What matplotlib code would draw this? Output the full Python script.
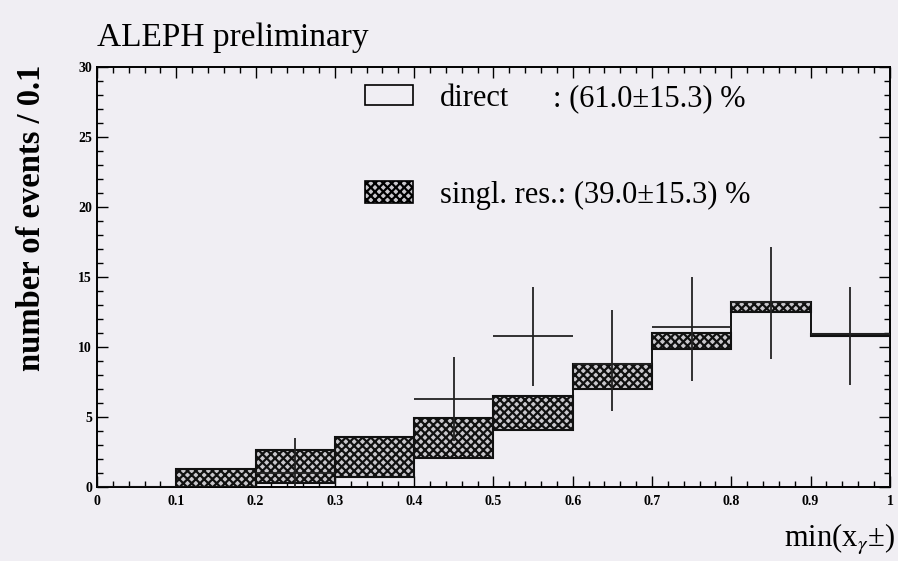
import numpy as np
import matplotlib
matplotlib.use("Agg")
import matplotlib.pyplot as plt
from matplotlib.patches import Rectangle

# histogram bins in min(x_gamma+-)
edges = [0.0, 0.1, 0.2, 0.3, 0.4, 0.5, 0.6, 0.7, 0.8, 0.9, 1.0]
direct = [0.0, 0.0, 0.29, 0.71, 2.07, 4.07, 7.0, 9.86, 12.52, 10.8]
singl_res = [0.0, 1.29, 2.35, 2.86, 2.86, 2.45, 1.79, 1.14, 0.72, 0.13]

# data points
data_x = [0.25, 0.45, 0.55, 0.65, 0.75, 0.85, 0.95]
data_y = [1.0, 6.3, 10.8, 8.8, 11.4, 13.2, 10.9]
data_lo = [1.0, 3.0, 3.6, 3.4, 3.8, 4.1, 3.6]
data_hi = [2.5, 3.0, 3.5, 3.8, 3.6, 3.9, 3.4]

bg = "#f0eef3"
plt.rcParams["font.family"] = ["Liberation Serif", "DejaVu Serif"]
plt.rcParams["mathtext.fontset"] = "stix"
plt.rcParams["hatch.linewidth"] = 1.6

fig = plt.figure(figsize=(8.98, 5.61), dpi=100, facecolor=bg)
ax = fig.add_axes([0.108, 0.132, 0.883, 0.749], facecolor=bg)

lefts = np.array(edges[:-1])
width = np.diff(edges)
ax.bar(lefts, singl_res, width=width, bottom=direct, align="edge",
       facecolor="#c9c7cc", edgecolor="#111111", hatch="xxxx", lw=1.5, zorder=2)
ax.stairs(direct, edges, color="#111111", lw=1.4, zorder=3)

ax.errorbar(data_x, data_y, xerr=0.05, yerr=[data_lo, data_hi], fmt="none",
            ecolor="#222222", elinewidth=1.3, capsize=0, zorder=4)

ax.set_xlim(0, 1)
ax.set_ylim(0, 30)
ax.set_xticks(np.arange(0, 1.01, 0.1))
ax.set_xticklabels(["0", "0.1", "0.2", "0.3", "0.4", "0.5", "0.6", "0.7", "0.8", "0.9", "1"])
ax.set_xticks(np.arange(0, 1.001, 0.02), minor=True)
ax.set_yticks(np.arange(0, 31, 5))
ax.set_yticks(np.arange(0, 31, 1), minor=True)
ax.tick_params(which="both", direction="in", top=True, right=True,
               labelsize=10, width=1.0)
ax.tick_params(which="major", length=8)
ax.tick_params(which="minor", length=4)
for lab in ax.get_xticklabels() + ax.get_yticklabels():
    lab.set_fontweight("bold")
ax.tick_params(axis="x", pad=6)
for s in ax.spines.values():
    s.set_linewidth(1.4)

# legend drawn by hand
ax.add_patch(Rectangle((0.338, 0.91), 0.06, 0.047, transform=ax.transAxes,
                       facecolor=bg, edgecolor="black", lw=1.2, zorder=5))
ax.add_patch(Rectangle((0.338, 0.675), 0.06, 0.053, transform=ax.transAxes,
                       facecolor="#c9c7cc", edgecolor="black", hatch="xxxx",
                       lw=1.2, zorder=5))
ax.text(0.432, 0.925, "direct", transform=ax.transAxes, fontsize=22,
        va="center", ha="left")
ax.text(0.575, 0.925, ": (61.0\u00b115.3) %", transform=ax.transAxes,
        fontsize=22, va="center", ha="left")
ax.text(0.432, 0.693, "singl. res.: (39.0\u00b115.3) %", transform=ax.transAxes,
        fontsize=22, va="center", ha="left")

fig.text(0.108, 0.918, "ALEPH preliminary", fontsize=24, ha="left", va="baseline")
fig.text(0.035, 0.612, "number of events / 0.1", fontsize=23.5, rotation=90,
         ha="center", va="center", fontweight="bold")
fig.text(0.997, 0.025, "min(x$_{\\gamma}$\u00b1)", fontsize=22, ha="right",
         va="baseline")

fig.savefig("out.png", dpi=100, facecolor=bg)
